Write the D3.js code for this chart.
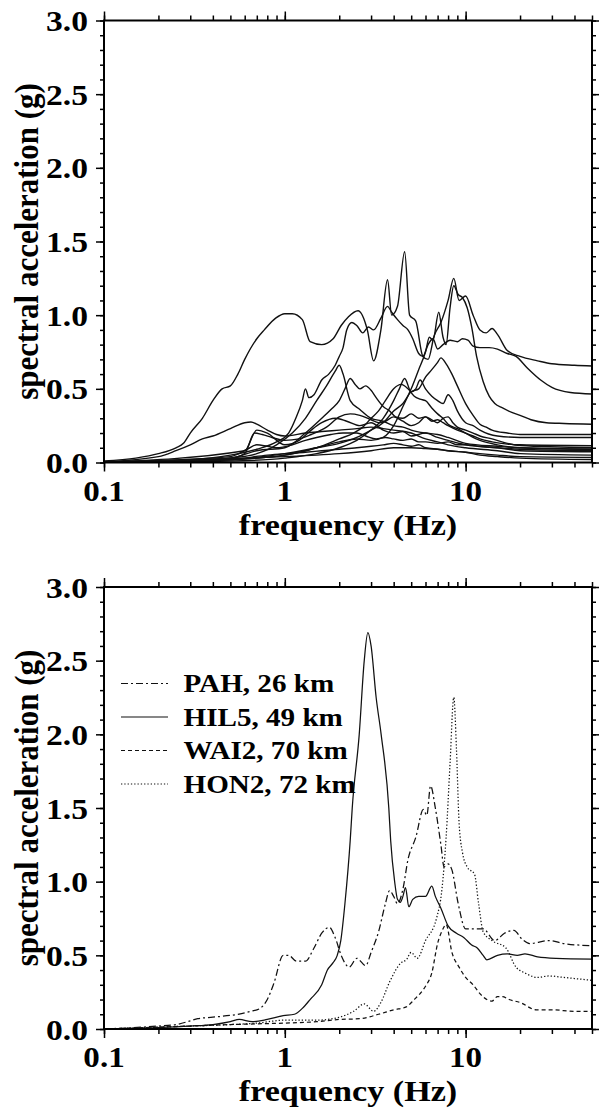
<!DOCTYPE html>
<html><head><meta charset="utf-8">
<script src="https://cdn.jsdelivr.net/npm/d3@7"></script>
<style>body{margin:0;background:#fff}svg{display:block}</style>
</head><body>
<script>
// ---------- data: top panel (spectral acceleration, many stations) ----------
const sa01 = [[0.1,0.01],[0.15,0.03],[0.2,0.06],[0.25,0.1],[0.275,0.13],[0.3,0.2],[0.35,0.3],[0.4,0.42],[0.45,0.5],[0.5,0.52],[0.55,0.6],[0.6,0.7],[0.7,0.84],[0.77,0.9],[0.89,0.98],[1.0,1.01],[1.1,1.01],[1.25,0.97],[1.38,0.82],[1.6,0.8],[1.85,0.84],[2.05,0.93],[2.25,0.99],[2.54,1.03],[2.86,0.9],[3.1,0.69],[3.4,0.9],[3.7,1.24],[3.9,1.0],[4.2,1.06],[4.6,1.43],[4.9,1.0],[5.3,0.96],[5.8,0.72],[6.2,0.7],[6.7,0.86],[7.3,0.95],[8.0,1.1],[8.6,1.25],[9.2,1.1],[10,1.13],[11,1.0],[12,0.9],[13,0.88],[14,0.91],[15,0.87],[17,0.76],[20,0.72],[25,0.69],[30,0.67],[40,0.66],[50,0.655]];
const sa02 = [[0.1,0.005],[0.3,0.02],[0.5,0.05],[0.7,0.09],[0.9,0.14],[1.05,0.2],[1.15,0.3],[1.25,0.42],[1.3,0.5],[1.36,0.44],[1.45,0.46],[1.6,0.56],[1.75,0.6],[1.9,0.66],[2.0,0.72],[2.1,0.78],[2.2,0.9],[2.35,0.95],[2.5,0.93],[2.7,0.88],[2.9,0.92],[3.1,0.9],[3.4,0.98],[3.7,1.06],[3.9,1.02],[4.2,0.97],[4.5,0.93],[4.8,0.9],[5.1,0.84],[5.5,0.74],[5.8,0.72],[6.2,0.8],[6.6,0.84],[7.0,0.77],[7.5,0.8],[8.2,0.83],[9,0.82],[9.6,0.84],[10.3,0.83],[11,0.79],[12,0.78],[13.5,0.78],[15,0.77],[17,0.74],[19,0.72],[22,0.64],[26,0.56],[30,0.51],[38,0.475],[50,0.465]];
const sa03 = [[0.1,0.003],[0.5,0.02],[1,0.05],[1.5,0.1],[2,0.14],[2.5,0.16],[3,0.15],[3.5,0.17],[4,0.25],[4.5,0.38],[5,0.5],[5.5,0.63],[6,0.75],[6.3,0.85],[6.6,0.83],[7.1,1.02],[7.5,0.85],[7.8,0.8],[8.2,1.05],[8.6,1.2],[9.1,1.14],[9.6,1.12],[10.2,1.05],[10.8,0.92],[11.5,0.72],[12.5,0.55],[13.5,0.45],[14.5,0.4],[16,0.37],[18,0.34],[20,0.32],[23,0.29],[28,0.27],[35,0.265],[50,0.26]];
const sa04 = [[0.1,0.002],[0.3,0.01],[0.5,0.03],[0.7,0.06],[0.9,0.12],[1.1,0.2],[1.3,0.3],[1.5,0.42],[1.7,0.52],[1.9,0.62],[2.0,0.66],[2.1,0.6],[2.3,0.42],[2.6,0.36],[3.0,0.3],[3.5,0.28],[4,0.25],[4.5,0.24],[5,0.22],[6,0.2],[7,0.19],[8,0.17],[10,0.13],[15,0.11],[20,0.1],[50,0.09]];
const sa05 = [[0.1,0.002],[0.5,0.02],[1,0.06],[1.5,0.1],[2,0.13],[2.5,0.17],[3,0.22],[3.5,0.27],[4,0.35],[4.5,0.4],[5,0.48],[5.5,0.5],[6,0.58],[6.5,0.63],[7,0.68],[7.3,0.71],[7.8,0.67],[8.4,0.6],[9,0.52],[10,0.4],[11,0.32],[12,0.26],[13,0.24],[14,0.22],[17,0.2],[20,0.19],[50,0.19]];
const sa06 = [[0.1,0.002],[0.5,0.03],[0.7,0.08],[1,0.1],[1.3,0.2],[1.6,0.3],[1.8,0.36],[2.0,0.42],[2.15,0.5],[2.3,0.57],[2.45,0.53],[2.6,0.5],[2.8,0.52],[3.0,0.49],[3.2,0.44],[3.5,0.38],[3.8,0.35],[4.1,0.31],[4.5,0.3],[5,0.33],[5.5,0.3],[6,0.31],[6.5,0.28],[7,0.29],[7.5,0.27],[8,0.25],[9,0.22],[10,0.2],[11,0.18],[12,0.16],[14,0.14],[17,0.125],[20,0.12],[50,0.114]];
const sa07 = [[0.1,0.005],[0.2,0.04],[0.25,0.08],[0.3,0.12],[0.35,0.16],[0.4,0.18],[0.5,0.23],[0.6,0.27],[0.65,0.275],[0.7,0.26],[0.8,0.22],[0.9,0.19],[1.0,0.18],[1.3,0.2],[1.6,0.21],[2,0.22],[2.5,0.23],[3,0.24],[3.5,0.23],[4,0.22],[5,0.2],[6,0.16],[7,0.14],[8,0.12],[10,0.1],[15,0.08],[20,0.06],[50,0.05]];
const sa08 = [[0.1,0.002],[0.5,0.02],[1,0.05],[1.5,0.1],[2,0.16],[2.4,0.2],[2.7,0.24],[3,0.3],[3.3,0.35],[3.6,0.42],[4,0.5],[4.4,0.53],[4.8,0.5],[5.2,0.45],[5.6,0.43],[6,0.42],[6.5,0.37],[7,0.33],[7.5,0.3],[8,0.26],[9,0.23],[10,0.2],[11,0.17],[12,0.15],[15,0.12],[20,0.1],[50,0.09]];
const sa09 = [[0.1,0.001],[0.5,0.01],[1,0.03],[1.5,0.06],[2,0.1],[2.5,0.15],[3,0.22],[3.5,0.3],[4,0.42],[4.3,0.5],[4.6,0.57],[5,0.48],[5.3,0.5],[5.6,0.56],[6,0.5],[6.5,0.45],[7,0.42],[7.5,0.4],[8,0.46],[8.5,0.42],[9,0.35],[10,0.27],[11,0.25],[12,0.22],[15,0.18],[20,0.17],[50,0.17]];
const sa10 = [[0.1,0.002],[0.5,0.03],[0.6,0.06],[0.68,0.2],[0.75,0.19],[0.85,0.17],[1,0.15],[1.2,0.16],[1.4,0.19],[1.7,0.24],[2,0.31],[2.3,0.33],[2.6,0.32],[3,0.29],[3.3,0.27],[3.6,0.28],[4,0.31],[4.5,0.28],[5,0.25],[5.5,0.27],[6,0.31],[6.5,0.29],[7,0.27],[7.5,0.3],[8,0.31],[8.5,0.27],[9,0.24],[10,0.22],[11,0.2],[12,0.18],[14,0.16],[17,0.13],[20,0.115],[50,0.1]];
const sa11 = [[0.1,0.001],[0.5,0.04],[0.62,0.09],[0.7,0.12],[0.8,0.11],[0.9,0.1],[1.1,0.12],[1.3,0.15],[1.5,0.17],[1.8,0.19],[2.1,0.2],[2.5,0.2],[2.8,0.18],[3.2,0.16],[3.6,0.17],[4,0.16],[4.5,0.15],[5,0.16],[5.5,0.14],[6,0.14],[7,0.13],[8,0.14],[9,0.12],[10,0.12],[12,0.11],[15,0.1],[20,0.08],[50,0.073]];
const sa12 = [[0.1,0.001],[0.5,0.02],[0.8,0.05],[1,0.06],[1.3,0.07],[1.6,0.08],[2,0.09],[2.5,0.1],[3,0.11],[3.5,0.12],[4,0.13],[4.5,0.12],[5,0.11],[5.5,0.12],[6,0.1],[7,0.09],[8,0.08],[10,0.07],[12,0.06],[15,0.05],[20,0.04],[50,0.035]];
const sa13 = [[0.1,0.001],[0.6,0.03],[1,0.04],[1.5,0.05],[2,0.06],[3,0.08],[4,0.1],[5,0.1],[6,0.095],[7,0.09],[8,0.08],[10,0.07],[12,0.05],[15,0.04],[20,0.03],[50,0.02]];
const sa14 = [[0.1,0.002],[0.6,0.08],[0.7,0.22],[0.8,0.2],[1,0.12],[1.2,0.15],[1.4,0.22],[1.6,0.27],[1.9,0.3],[2.2,0.28],[2.6,0.25],[3,0.27],[3.5,0.22],[4,0.2],[4.5,0.21],[5,0.18],[6,0.2],[7,0.17],[8,0.15],[10,0.12],[15,0.1],[20,0.09],[50,0.08]];

// ---------- data: bottom panel (four stations) ----------
const stationNames = ["PAH, 26 km","HIL5, 49 km","WAI2, 70 km","HON2, 72 km"];
const pah  = [[0.1,0.0],[0.2,0.02],[0.25,0.03],[0.3,0.055],[0.33,0.07],[0.4,0.08],[0.55,0.1],[0.65,0.12],[0.73,0.14],[0.8,0.2],[0.87,0.31],[0.98,0.5],[1.05,0.5],[1.16,0.46],[1.3,0.46],[1.45,0.55],[1.6,0.65],[1.76,0.69],[1.9,0.62],[2.05,0.5],[2.27,0.42],[2.5,0.48],[2.8,0.43],[3.0,0.52],[3.3,0.66],[3.6,0.85],[3.8,0.94],[4.0,0.9],[4.2,0.85],[4.5,0.95],[4.8,1.15],[5.3,1.3],[5.84,1.49],[6.1,1.45],[6.4,1.65],[6.8,1.5],[7.3,1.25],[7.6,1.1],[8.0,1.12],[8.4,1.08],[9.1,0.85],[10,0.68],[11.2,0.68],[12.5,0.68],[14.5,0.6],[16.4,0.65],[18.5,0.67],[20.5,0.61],[22.6,0.58],[28.8,0.6],[35,0.58],[50,0.565]];
const hil5 = [[0.1,0.0],[0.2,0.01],[0.3,0.02],[0.4,0.03],[0.5,0.05],[0.56,0.065],[0.66,0.05],[0.8,0.065],[0.98,0.09],[1.13,0.1],[1.25,0.14],[1.38,0.2],[1.6,0.3],[1.72,0.4],[1.85,0.45],[1.95,0.5],[2.04,0.6],[2.15,0.85],[2.3,1.28],[2.36,1.5],[2.58,2.0],[2.75,2.5],[2.88,2.69],[3.0,2.6],[3.2,2.25],[3.41,2.0],[3.76,1.5],[3.85,1.28],[4.05,1.0],[4.2,0.88],[4.35,0.86],[4.5,0.9],[4.65,0.96],[4.85,0.83],[5.1,0.88],[5.5,0.9],[6.0,0.9],[6.5,0.97],[6.8,0.9],[7.3,0.82],[8.0,0.7],[8.9,0.65],[9.8,0.62],[10.8,0.57],[11.6,0.55],[12.5,0.5],[13.1,0.47],[15,0.5],[17,0.51],[19.3,0.5],[21.3,0.51],[25,0.49],[31.6,0.48],[50,0.475]];
const wai2 = [[0.1,0.0],[0.3,0.02],[0.5,0.03],[0.7,0.035],[1,0.04],[1.5,0.05],[2,0.065],[2.6,0.07],[3.3,0.1],[4.0,0.13],[4.7,0.15],[5.2,0.2],[5.6,0.24],[6.0,0.29],[6.5,0.38],[7.0,0.58],[7.5,0.68],[7.8,0.71],[8.4,0.52],[9.2,0.42],[10,0.35],[11,0.3],[12,0.24],[13.1,0.2],[14,0.19],[15,0.22],[16,0.22],[17.4,0.2],[20,0.18],[24.6,0.13],[30,0.13],[40,0.12],[50,0.12]];
const hon2 = [[0.1,0.0],[0.3,0.02],[0.5,0.03],[0.7,0.04],[1,0.06],[1.5,0.06],[2,0.08],[2.4,0.12],[2.75,0.17],[3.1,0.12],[3.4,0.18],[3.8,0.32],[4.4,0.45],[4.7,0.47],[5.0,0.52],[5.4,0.48],[6.0,0.6],[6.9,0.75],[7.4,0.95],[7.8,1.3],[8.2,1.8],[8.6,2.25],[8.9,1.9],[9.2,1.4],[9.6,1.2],[10.2,1.1],[11.2,1.05],[11.8,0.85],[12.5,0.66],[14,0.6],[16.7,0.55],[19,0.42],[21.3,0.38],[25,0.35],[28.8,0.36],[35,0.35],[50,0.33]];

// ---------- axis ticks ----------
const yTickValues = [0.0,0.5,1.0,1.5,2.0,2.5,3.0];
const xTickLabels = ["0.1","1","10"];
const xTickValues = [0.1,1,10];
const xTitle = "frequency (Hz)";
const yTitle = "spectral acceleration (g)";

const topCurves = [sa01,sa02,sa03,sa04,sa05,sa06,sa07,sa08,sa09,sa10,sa11,sa12,sa13,sa14];
const bottomCurves = [pah,hil5,wai2,hon2];
const bottomDash = ["7,3,2,3", null, "4,3", "1.3,2"];

// ---------- drawing ----------
const W = 599, H = 1109;
const svg = d3.select("body").append("svg").attr("width",W).attr("height",H)
  .style("font-family","'Liberation Serif','Times New Roman',serif").style("font-weight","bold");

const x = d3.scaleLog().domain([0.1,50]).range([104,592]);
const SX = 1.12; // horizontal stretch of the lettering

const minorX = [];
[0.1,1,10].forEach(d => { for (let k=1;k<=9;k++){ const v=d*k; if (v<=50.0001) minorX.push(+v.toPrecision(3)); }});
const minorY = d3.range(0,31).map(i=>i/10);

function panel(y0, y1, curves, dashes, legend) {
  const y = d3.scaleLinear().domain([0,3]).range([y0,y1]);
  const g = svg.append("g");

  const line = d3.line().x(d=>x(d[0])).y(d=>y(d[1])).curve(d3.curveMonotoneX);
  curves.forEach((c,i)=>{
    g.append("path").attr("d", line(c)).attr("fill","none").attr("stroke","#111")
      .attr("stroke-width", dashes ? 1.25 : 1.4)
      .attr("stroke-dasharray", dashes ? dashes[i] : null);
  });

  const ax = (gen, tr) => g.append("g").attr("transform",tr).call(gen)
      .call(s=>s.select(".domain").remove())
      .call(s=>s.selectAll("line").attr("stroke","#000").attr("stroke-width",1.5));
  ax(d3.axisBottom(x).tickValues(minorX).tickSize(5).tickFormat(""), `translate(0,${y0})`);
  ax(d3.axisBottom(x).tickValues(xTickValues).tickSize(9).tickFormat(""), `translate(0,${y0})`);
  ax(d3.axisTop(x).tickValues(minorX).tickSize(5).tickFormat(""), `translate(0,${y1})`);
  ax(d3.axisTop(x).tickValues(xTickValues).tickSize(9).tickFormat(""), `translate(0,${y1})`);
  ax(d3.axisLeft(y).tickValues(minorY).tickSize(4).tickFormat(""), `translate(104,0)`);
  ax(d3.axisLeft(y).tickValues(yTickValues).tickSize(8).tickFormat(""), `translate(104,0)`);
  ax(d3.axisRight(y).tickValues(minorY).tickSize(4).tickFormat(""), `translate(592,0)`);
  ax(d3.axisRight(y).tickValues(yTickValues).tickSize(8).tickFormat(""), `translate(592,0)`);

  g.append("rect").attr("x",104).attr("y",y1).attr("width",592-104).attr("height",y0-y1)
    .attr("fill","none").attr("stroke","#000").attr("stroke-width",2);

  yTickValues.forEach(v=>{
    g.append("g").attr("transform",`translate(88,${y(v)+10.5}) scale(${SX},1)`)
      .append("text").attr("text-anchor","end").attr("font-size",30).text(v.toFixed(1));
  });
  xTickValues.forEach((v,i)=>{
    g.append("g").attr("transform",`translate(${x(v)},${y0+38}) scale(${SX},1)`)
      .append("text").attr("text-anchor","middle").attr("font-size",29.5).text(xTickLabels[i]);
  });
  g.append("g").attr("transform",`translate(348,${y0+72}) scale(${SX},1)`)
    .append("text").attr("text-anchor","middle").attr("font-size",30.5).text(xTitle);
  g.append("g").attr("transform",`translate(38,${(y0+y1)/2}) scale(${SX},1) rotate(-90)`)
    .append("text").attr("text-anchor","middle").attr("font-size",31).text(yTitle);

  if (legend) {
    const rows = [692,725.5,759,792.5];
    stationNames.forEach((n,i)=>{
      g.append("line").attr("x1",121).attr("x2",168).attr("y1",rows[i]-8.5).attr("y2",rows[i]-8.5)
        .attr("stroke","#111").attr("stroke-width",1.2).attr("stroke-dasharray",dashes[i]);
      g.append("g").attr("transform",`translate(183.5,${rows[i]}) scale(${SX},1)`)
        .append("text").attr("font-size",26).text(n);
    });
  }
}

panel(462.5, 20.5, topCurves, null, false);
panel(1029, 587, bottomCurves, bottomDash, true);
</script>
</body></html>
